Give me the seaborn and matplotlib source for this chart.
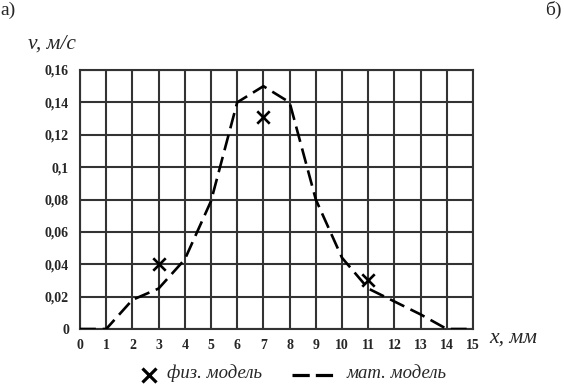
import matplotlib
matplotlib.use("Agg")
import matplotlib.pyplot as plt
import seaborn as sns
import pandas as pd
from matplotlib.lines import Line2D

# data
x_model = [0, 1, 2, 3, 4, 5, 6, 7, 8, 9, 10, 11, 12, 13, 14, 15]
v_model = [0, 0, 0.018, 0.025, 0.043, 0.079, 0.140, 0.150, 0.140, 0.080, 0.044, 0.025, 0.017, 0.009, 0, 0]
x_phys = [3, 7, 11]
v_phys = [0.040, 0.131, 0.030]
y_ticks = [0, 0.02, 0.04, 0.06, 0.08, 0.1, 0.12, 0.14, 0.16]
y_labels = ["0", "0,02", "0,04", "0,06", "0,08", "0,1", "0,12", "0,14", "0,16"]
x_ticks = list(range(0, 16))
legend_labels = ["физ. модель", "мат. модель"]

sns.set_style("white")
plt.rcParams['font.family'] = ['Liberation Serif', 'DejaVu Serif']

W, H = 564, 385
fig = plt.figure(figsize=(W/100, H/100), dpi=100)
ax = fig.add_axes([80/W, 1 - 329/H, 393/W, 259/H])

df_m = pd.DataFrame({"x": x_model, "v": v_model})
df_p = pd.DataFrame({"x": x_phys, "v": v_phys})

sns.lineplot(data=df_m, x="x", y="v", ax=ax, color="black", lw=1.9,
             linestyle=(0, (6, 2.6)), zorder=3)
sns.scatterplot(data=df_p, x="x", y="v", ax=ax, marker="x", s=80,
                color="black", linewidth=1.9, zorder=4)

ax.set_xlim(0, 15)
ax.set_ylim(0, 0.16)
ax.set_xticks(x_ticks)
ax.set_xticklabels([str(t) for t in x_ticks], fontsize=10, fontweight="bold")
ax.set_yticks(y_ticks)
ax.set_yticklabels(y_labels, fontsize=10, fontweight="bold")
ax.grid(True, color="#333333", lw=1.5)
ax.tick_params(axis="y", length=0, pad=8)
ax.tick_params(axis="x", length=0, pad=7)
for s in ax.spines.values():
    s.set_color("#333333")
    s.set_linewidth(1.5)
ax.set_xlabel("")
ax.set_ylabel("")

renderer = fig.canvas.get_renderer()

def fit_text(x0, yc, s, target_w, **kw):
    t = fig.text(x0/W, 1 - yc/H, s, fontsize=10, va="center", ha="left", **kw)
    w = t.get_window_extent(renderer=renderer).width
    t.set_fontsize(10 * target_w / w)
    return t

fit_text(28, 44, "v, м/с", 48, style="italic")
fit_text(489, 338, "x, мм", 48, style="italic")
fig.text(0/W, 1 - 10/H, "а)", fontsize=14, va="center", ha="left")
fig.text(545/W, 1 - 10/H, "б)", fontsize=14, va="center", ha="left")

# legend
ly = 1 - 375/H
fig.add_artist(Line2D([149/W], [ly], transform=fig.transFigure, color="black",
                      marker="x", markersize=10, mew=2.3, linestyle="none"))
fit_text(167, 373, legend_labels[0], 95, style="italic")
fig.add_artist(Line2D([292/W, 333/W], [ly, ly], transform=fig.transFigure,
                      color="black", lw=2.3, linestyle=(0, (5.4, 1.9)),
                      solid_capstyle="butt", dash_capstyle="butt"))
fit_text(347, 373, legend_labels[1], 100, style="italic")

fig.savefig("out.png", dpi=100)
